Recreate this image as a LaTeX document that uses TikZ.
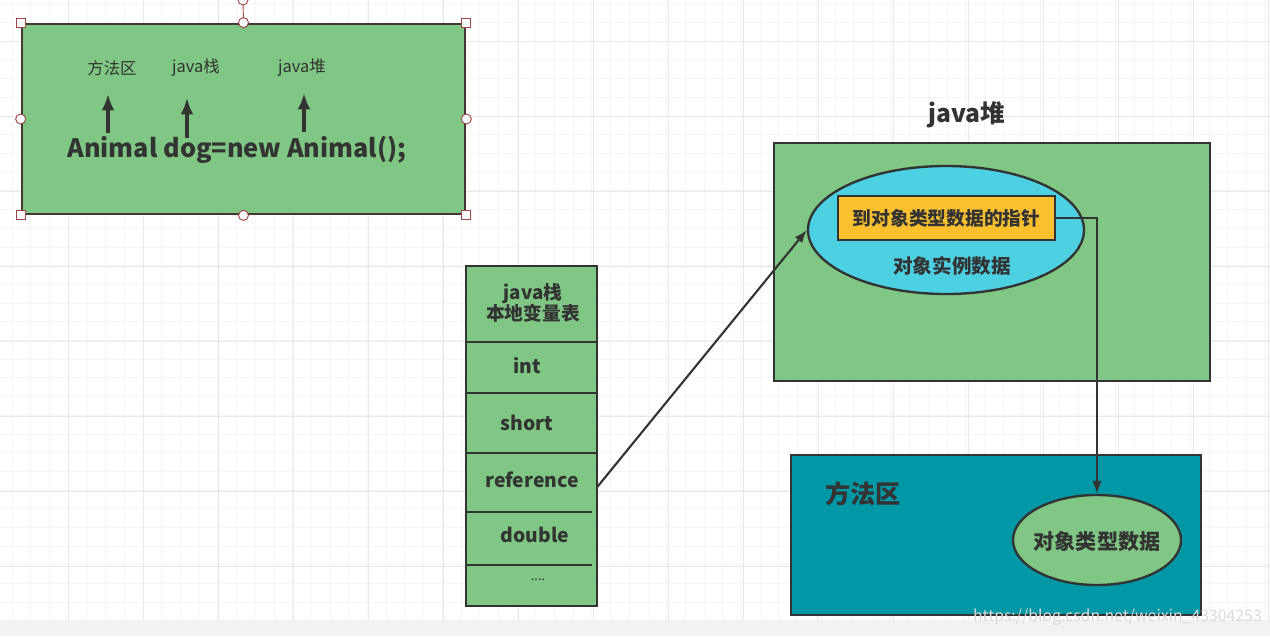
\documentclass[tikz,border=0pt]{standalone}
\usepackage{fontspec}
\setmainfont{Noto Sans CJK SC}
\usepackage{xcolor}
\usetikzlibrary{arrows.meta,shapes.geometric}

\definecolor{boxgreen}{RGB}{128,198,132}
\definecolor{objblue}{RGB}{77,208,225}
\definecolor{ptrorange}{RGB}{251,192,45}
\definecolor{methteal}{RGB}{0,151,167}
\definecolor{edge}{RGB}{51,51,51}
\definecolor{handle}{RGB}{160,70,70}

\begin{document}
\begin{tikzpicture}[x=0.03cm, y=-0.03cm,
                area/.style={rectangle, draw=edge, line width=2.3pt, inner sep=0pt},
                blob/.style={ellipse, draw=edge, line width=2pt, inner sep=0pt},
                label/.style={font=\bfseries, text=edge, align=center},
                arrow/.style={-{Latex[length=11pt,width=8pt]}, line width=1.8pt, draw=edge},
                bigarrow/.style={-{Latex[length=14pt,width=11pt]}, line width=3pt, draw=edge}
            ]
        % background grid
        \useasboundingbox (0,0) rectangle (1270,636);
        \foreach \gx in {12.1,30.8,...,1270} \draw[gray!8, line width=0.6pt] (\gx,0) -- (\gx,620);
        \foreach \gy in {3.8,22.5,...,620} \draw[gray!8, line width=0.6pt] (0,\gy) -- (1270,\gy);
        \foreach \gx in {68.3,143.3,...,1270} \draw[gray!18, line width=0.7pt] (\gx,0) -- (\gx,620);
        \foreach \gy in {41.3,116.3,...,620} \draw[gray!18, line width=0.7pt] (0,\gy) -- (1270,\gy);
        \fill[gray!10] (0,620) rectangle (1270,636);

        % code box
        \node[area, draw={rgb,255:red,70;green,55;blue,55}, fill=boxgreen,
              minimum width=13.29cm, minimum height=5.7cm] (code) at (243.5,119) {};
        \node[font=\fontsize{14}{16}\selectfont, text=edge] (lmeth)  at (112,68) {方法区};
        \node[font=\fontsize{14}{16}\selectfont, text=edge] (lstack) at (196,68) {java栈};
        \node[font=\fontsize{14}{16}\selectfont, text=edge] (lheap)  at (302,68) {java堆};
        \node[label, font=\fontsize{21.6}{25}\bfseries] (stmt) at (237,150) {Animal dog=new Animal();};
        \coordinate (pm) at (108,133);
        \coordinate (ps) at (187,138);
        \coordinate (ph) at (304,132);
        \draw[bigarrow] (pm) -- (108,94);
        \draw[bigarrow] (ps) -- (187,98);
        \draw[bigarrow] (ph) -- (304,93);

        % selection handles
        \draw[handle, line width=0.8pt] (code.north) -- (243,0);
        \draw[handle, fill=white, line width=0.8pt] (243,0) circle (5);
        \foreach \c in {north west, north east, south west, south east}
            \draw[handle, fill=white, line width=0.8pt] ([shift={(-4.5,-4.5)}]code.\c) rectangle ([shift={(4.5,4.5)}]code.\c);
        \foreach \c in {north, south, west, east}
            \draw[handle, fill=white, line width=0.8pt] (code.\c) circle (5);

        % local variable table
        \node[area, fill=boxgreen, minimum width=3.93cm, minimum height=10.2cm] (stack) at (531.5,436) {};
        \draw[edge, line width=2.3pt] (466,342) -- (597,342);
        \draw[edge, line width=2.3pt] (466,393) -- (597,393);
        \draw[edge, line width=2.3pt] (466,453) -- (597,453);
        \draw[edge, line width=2.3pt] (466,512) -- (592,512);
        \draw[edge, line width=2.3pt] (466,565) -- (592,565);
        \node[label, font=\fontsize{16}{18.5}\bfseries] (vtitle) at (533,303) {java栈\\本地变量表};
        \node[label, font=\fontsize{16.5}{19}\bfseries] (vint)    at (527,366) {int};
        \node[label, font=\fontsize{16.5}{19}\bfseries] (vshort)  at (527,423) {short};
        \node[minimum width=3.93cm] (vref) at (531.5,487) {};
        \node[label, font=\fontsize{16.5}{19}\bfseries] (vreftxt) at (532,480) {reference};
        \node[label, font=\fontsize{16.5}{19}\bfseries] (vdouble) at (535,535) {double};
        \node[font=\fontsize{11}{13}\selectfont, text=edge] (vmore) at (538,580) {....};

        % heap
        \node[label, font=\fontsize{21}{24}\bfseries] (heaptitle) at (967,115) {java堆};
        \node[area, fill=boxgreen, minimum width=13.08cm, minimum height=7.14cm] (heap) at (992,262) {};
        \node[blob, fill=objblue, minimum width=8.28cm, minimum height=3.84cm] (inst) at (946,230) {};
        \node[area, line width=2pt, fill=ptrorange, minimum width=6.51cm, minimum height=1.32cm,
              label, font=\fontsize{16}{18}\bfseries] (ptr) at (946.5,218) {到对象类型数据的指针};
        \node[label, font=\fontsize{16.7}{19}\bfseries] (insttxt) at (952,266) {对象实例数据};

        % method area
        \node[area, fill=methteal, minimum width=12.3cm, minimum height=4.8cm] (meth) at (996,535) {};
        \node[label, font=\fontsize{21.5}{24}\bfseries] (methtitle) at (863,494) {方法区};
        \node[blob, fill=boxgreen, minimum width=5.04cm, minimum height=2.7cm] (klass) at (1097,540) {};
        \node[label, font=\fontsize{18}{20}\bfseries] (klasstxt) at (1097,541) {对象类型数据};

        \draw[arrow] (vref.east) -- (inst.west);
        \draw[arrow] (ptr.east) -| (klass.north);

        \node[text=gray!30, font=\fontsize{13.5}{15}\selectfont, anchor=east, inner sep=0pt] (mark) at (1262,617) {https://blog.csdn.net/weixin\_43304253};
            \end{tikzpicture}
\end{document}
